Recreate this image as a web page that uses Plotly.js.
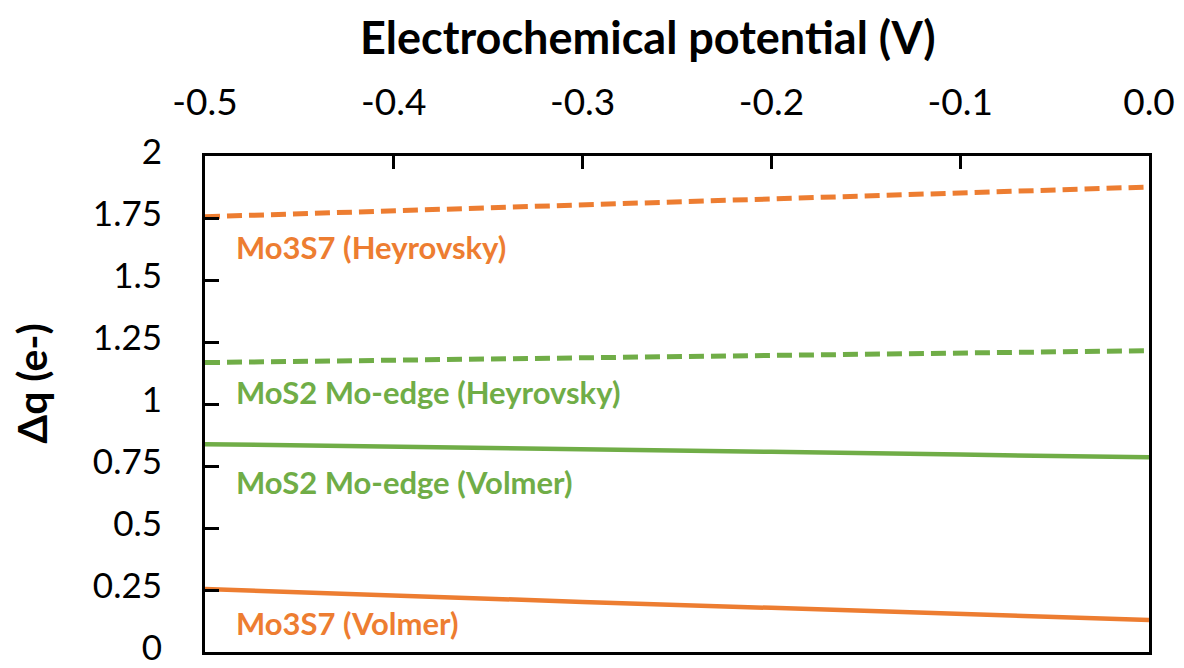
<!DOCTYPE html>
<html>
<head>
<meta charset="utf-8">
<script src="https://cdn.plot.ly/plotly-3.0.1.min.js"></script>
<style>html,body{margin:0;padding:0;background:#fff;}#chart{width:1184px;height:668px;}</style>
</head>
<body>
<div id="chart"></div>
<script>
const potential = [-0.5, -0.4, -0.3, -0.2, -0.1, 0.0];
const mo3s7Heyrovsky = [1.755, 1.78, 1.805, 1.83, 1.853, 1.875];
const mos2Heyrovsky = [1.167, 1.176, 1.185, 1.195, 1.205, 1.215];
const mos2Volmer = [0.838, 0.829, 0.818, 0.807, 0.796, 0.785];
const mo3s7Volmer = [0.254, 0.227, 0.202, 0.178, 0.153, 0.129];
const seriesLabels = ["Mo3S7 (Heyrovsky)", "MoS2 Mo-edge (Heyrovsky)", "MoS2 Mo-edge (Volmer)", "Mo3S7 (Volmer)"];
const xTicks = [-0.5, -0.4, -0.3, -0.2, -0.1, 0.0];
const xTickText = ["-0.5", "-0.4", "-0.3", "-0.2", "-0.1", "0.0"];
const yTicks = [0, 0.25, 0.5, 0.75, 1, 1.25, 1.5, 1.75, 2];
const yTickText = ["0", "0.25", "0.5", "0.75", "1", "1.25", "1.5", "1.75", "2"];
const xTitle = "Electrochemical potential (V)";
const yTitle = "Δq (e-)";

const ORANGE = "#ED7D31", GREEN = "#70AD47";
const FONT = "Lato, 'Open Sans', sans-serif";

const traces = [
  {x: potential, y: mo3s7Heyrovsky, mode: "lines", name: seriesLabels[0], line: {color: ORANGE, width: 5, dash: "15px,7px"}},
  {x: potential, y: mos2Heyrovsky, mode: "lines", name: seriesLabels[1], line: {color: GREEN, width: 5, dash: "15px,7px"}},
  {x: potential, y: mos2Volmer, mode: "lines", name: seriesLabels[2], line: {color: GREEN, width: 4.5}},
  {x: potential, y: mo3s7Volmer, mode: "lines", name: seriesLabels[3], line: {color: ORANGE, width: 4.5}}
];

const annPos = [0.817, 0.524, 0.343, 0.058];
const annColors = [ORANGE, GREEN, GREEN, ORANGE];
const annotations = seriesLabels.map((t, i) => ({
  text: "<b>" + t + "</b>", xref: "paper", yref: "paper", x: 0.031, y: annPos[i],
  xanchor: "left", yanchor: "middle", showarrow: false,
  font: {family: FONT, size: 31, color: annColors[i]}
}));
annotations.push({
  text: "<b>" + xTitle + "</b>", xref: "paper", yref: "paper", x: 0.469, y: 1.24,
  xanchor: "center", yanchor: "middle", showarrow: false,
  font: {family: FONT, size: 45, color: "#000"}
});
annotations.push({
  text: "<b>" + yTitle + "</b>", xref: "paper", yref: "paper", x: -0.184, y: 0.542,
  xanchor: "center", yanchor: "middle", showarrow: false, textangle: -90,
  font: {family: FONT, size: 41, color: "#000"}
});

const layout = {
  width: 1184, height: 668,
  margin: {l: 205, r: 35, t: 156, b: 16},
  paper_bgcolor: "#fff", plot_bgcolor: "#fff",
  showlegend: false,
  font: {family: FONT, color: "#000"},
  xaxis: {
    side: "top", range: [-0.5, 0.0], tickvals: xTicks, ticktext: xTickText,
    ticks: "inside", ticklen: 13, tickwidth: 3, tickcolor: "#000",
    showline: true, linewidth: 3, linecolor: "#000", mirror: true,
    showgrid: false, zeroline: false,
    tickfont: {family: FONT, size: 37, color: "#000"},
    ticklabelstandoff: 23, ticklabeloverflow: "allow"
  },
  yaxis: {
    range: [0, 2], tickvals: yTicks, ticktext: yTickText,
    ticks: "inside", ticklen: 14, tickwidth: 3, tickcolor: "#000",
    showline: true, linewidth: 3, linecolor: "#000", mirror: true,
    showgrid: false, zeroline: false,
    tickfont: {family: FONT, size: 35, color: "#000"},
    ticklabelstandoff: 33, ticklabelshift: -4, ticklabeloverflow: "allow"
  },
  annotations: annotations
};

Plotly.newPlot("chart", traces, layout, {staticPlot: true, displayModeBar: false});
</script>
</body>
</html>
